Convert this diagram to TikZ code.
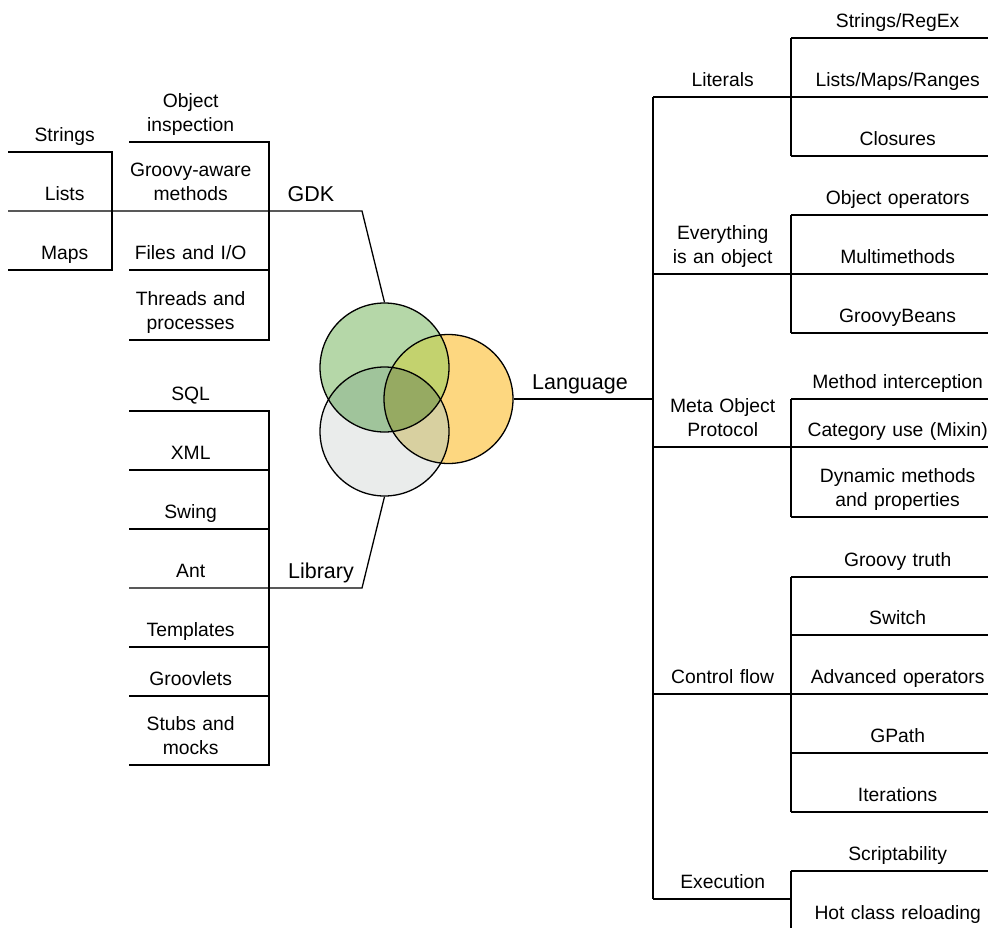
\documentclass[tikz,border=0pt]{standalone}
\usepackage{fontspec}
\setmainfont{Liberation Sans}

\definecolor{gdkfill}{RGB}{181,215,168}
\definecolor{langfill}{RGB}{253,215,128}
\definecolor{libfill}{RGB}{234,236,235}
\definecolor{gdklang}{RGB}{195,210,110}
\definecolor{gdklib}{RGB}{160,196,155}
\definecolor{langlib}{RGB}{216,208,160}
\definecolor{allthree}{RGB}{150,170,98}

\tikzset{
    item/.style={anchor=south west, align=center, inner xsep=0pt, inner ysep=2.35pt,
        font=\fontsize{19.3}{24.5}\selectfont, execute at end node=\strut},
    stritem/.style={item, text width=112pt},
    tool/.style={item, text width=122pt},
    branch/.style={item, text width=138pt},
    leaf/.style={item, text width=212pt},
    topic/.style={anchor=south, inner xsep=0pt, inner ysep=1pt,
        font=\fontsize{21.5}{26}\selectfont, execute at end node=\strut},
    venn/.style={circle, minimum size=129pt, inner sep=0pt}
}

\begin{document}
\begin{tikzpicture}[x=1pt, y=-1pt, line width=1.3pt]
        \clip (0,0) rectangle (988,927);

        \node[venn, fill=libfill] (libc) at (384.5,431.5) {};
        \node[venn, fill=langfill] (langc) at (448.5,399) {};
        \node[venn, fill=gdkfill] (gdkc) at (384.5,367.5) {};
        \begin{scope}
            \clip (langc.center) circle (64.5pt);
            \fill[langlib] (libc.center) circle (64.5pt);
        \end{scope}
        \begin{scope}
            \clip (gdkc.center) circle (64.5pt);
            \fill[gdklang] (langc.center) circle (64.5pt);
            \fill[gdklib] (libc.center) circle (64.5pt);
            \clip (langc.center) circle (64.5pt);
            \fill[allthree] (libc.center) circle (64.5pt);
        \end{scope}
        \foreach \c in {gdkc, langc, libc}
            \draw (\c.center) circle (64.5pt);

        \node[stritem] at (8,152) (strings) {Strings};
        \node[stritem] at (8,211) (lists) {Lists};
        \node[stritem] at (8,270) (maps) {Maps};
        \coordinate (strspine) at (112,0);
        \draw (strings.south west) -- (strings.south west -| strspine)
            -- (maps.south west -| strspine) -- (maps.south west);

        \node[tool] at (129,142) (objinsp) {Object\\inspection};
        \node[tool] at (129,211) (gaware) {Groovy-aware\\methods};
        \node[tool] at (129,270) (filesio) {Files and I/O};
        \node[tool] at (129,340) (threads) {Threads and\\processes};
        \coordinate (gdkspine) at (269,0);
        \draw (objinsp.south west) -- (objinsp.south west -| gdkspine)
            -- (threads.south west -| gdkspine) -- (threads.south west);
        \draw (filesio.south west) -- (filesio.south west -| gdkspine);

        \node[topic] at (311,211) (gdk) {GDK};
        \coordinate (gdkbend) at (362,211);
        \draw (lists.south west) -- (gdkbend) -- (gdkc.north);

        \node[tool] at (129,411) (sql) {SQL};
        \node[tool] at (129,470) (xml) {XML};
        \node[tool] at (129,529) (swing) {Swing};
        \node[tool] at (129,588) (ant) {Ant};
        \node[tool] at (129,647) (templates) {Templates};
        \node[tool] at (129,696) (groovlets) {Groovlets};
        \node[tool] at (129,765) (stubs) {Stubs and\\mocks};
        \draw (sql.south west) -- (sql.south west -| gdkspine)
            -- (stubs.south west -| gdkspine) -- (stubs.south west);
        \foreach \n in {xml, swing, templates, groovlets}
            \draw (\n.south west) -- (\n.south west -| gdkspine);

        \node[topic] at (321,588) (library) {Library};
        \coordinate (libbend) at (362,588);
        \draw (ant.south west) -- (libbend) -- (libc.south);

        \node[branch] at (653,97) (literals) {Literals};
        \node[branch] at (653,274) (everything) {Everything\\is an object};
        \node[branch] at (653,447) (mop) {Meta Object\\Protocol};
        \node[branch] at (653,694) (control) {Control flow};
        \node[branch] at (653,899) (execution) {Execution};
        \draw (literals.south west) -- (execution.south west);
        \foreach \n in {literals, everything, mop, control, execution}
            \draw (\n.south west) -- (\n.south east);

        \node[topic] at (580,399) (language) {Language};
        \draw (langc.east) -- (langc.east -| literals.south west);

        \node[leaf] at (791,38) (strre) {Strings/RegEx};
        \node[leaf] at (791,97) (lmr) {Lists/Maps/Ranges};
        \node[leaf] at (791,156) (closures) {Closures};
        \node[leaf] at (791,215) (objops) {Object operators};
        \node[leaf] at (791,274) (multi) {Multimethods};
        \node[leaf] at (791,333) (beans) {GroovyBeans};
        \node[leaf] at (791,399) (intercept) {Method interception};
        \node[leaf] at (791,447) (category) {Category use (Mixin)};
        \node[leaf] at (791,517) (dynamic) {Dynamic methods\\and properties};
        \node[leaf] at (791,577) (truth) {Groovy truth};
        \node[leaf] at (791,635) (switch) {Switch};
        \node[leaf] at (791,694) (advops) {Advanced operators};
        \node[leaf] at (791,753) (gpath) {GPath};
        \node[leaf] at (791,812) (iter) {Iterations};
        \node[leaf] at (791,871) (script) {Scriptability};
        \node[leaf] at (791,930) (hotclass) {Hot class reloading};
        \foreach \n in {strre, lmr, closures, objops, multi, beans, intercept, category,
                dynamic, truth, switch, advops, gpath, iter, script, hotclass}
            \draw (\n.south west) -- (\n.south east);
        \draw (strre.south west) -- (closures.south west);
        \draw (objops.south west) -- (beans.south west);
        \draw (intercept.south west) -- (dynamic.south west);
        \draw (truth.south west) -- (iter.south west);
        \draw (script.south west) -- (hotclass.south west);
    \end{tikzpicture}
\end{document}
